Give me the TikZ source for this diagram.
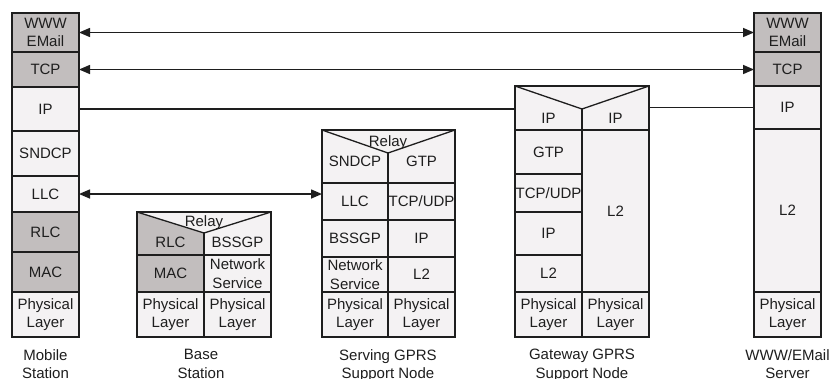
\documentclass[tikz,border=0pt]{standalone}
\usepackage{fontspec}
\setmainfont{Liberation Sans}
\usetikzlibrary{arrows.meta}
\definecolor{cellgray}{HTML}{C2BEBE}
\definecolor{celllite}{HTML}{F4F2F3}
\definecolor{ink}{HTML}{1E1E1E}
\newcommand{\stackcell}[7]{\node[cell,fill=#6,minimum width=#4pt,minimum height=#5pt] (#1) at (#2,#3) {#7};}
\begin{document}
\begin{tikzpicture}[x=1pt,y=-1pt,
  every node/.style={font=\fontsize{15}{18.5}\selectfont, text=ink},
  cell/.style={draw=ink, line width=1.3pt, inner sep=0pt, outer sep=0pt, align=center, anchor=north west},
  txt/.style={inner sep=0pt, align=center},
  vline/.style={draw=ink, line width=1.3pt},
  biarrow/.style={draw=ink, line width=1.5pt, {Triangle[length=11pt,width=9pt]}-{Triangle[length=11pt,width=9pt]}},
  plainline/.style={draw=ink, line width=1.5pt},
  caption/.style={inner sep=0pt, align=center, anchor=north}
]
\fill[white] (0,0) rectangle (834,378);
\useasboundingbox (0,0) rectangle (834,378);

% Mobile Station
\stackcell{ms1}{12}{13}{67}{39}{cellgray}{WWW\\EMail}
\stackcell{ms2}{12}{52}{67}{35}{cellgray}{TCP}
\stackcell{ms3}{12}{87}{67}{44}{celllite}{IP}
\stackcell{ms4}{12}{131}{67}{45}{celllite}{SNDCP}
\stackcell{ms5}{12}{176}{67}{36}{celllite}{LLC}
\stackcell{ms6}{12}{212}{67}{40}{cellgray}{RLC}
\stackcell{ms7}{12}{252}{67}{40}{cellgray}{MAC}
\stackcell{ms8}{12}{292}{67}{45}{celllite}{Physical\\Layer}

% Base Station
\stackcell{bsTop}{137}{212}{134}{43}{celllite}{}
\coordinate (bsApex) at (204,233);
\fill[cellgray] (bsTop.north west) -- (bsApex) -- (bsApex |- bsTop.south) -- (bsTop.south west) -- cycle;
\draw[vline] (bsTop.north west) rectangle (bsTop.south east);
\draw[vline] (bsTop.north west) -- (bsApex) -- (bsTop.north east);
\draw[vline] (bsApex) -- (bsApex |- bsTop.south);
\node[txt] (bsRelay) at (204,223) {Relay};
\node[txt] (bsRLC) at (170.5,242) {RLC};
\node[txt] (bsBSSGP) at (237.5,242) {BSSGP};
\stackcell{bs3}{137}{255}{67}{37}{cellgray}{MAC}
\stackcell{bs4}{204}{255}{67}{37}{celllite}{Network\\Service}
\stackcell{bs5}{137}{292}{67}{45}{celllite}{Physical\\Layer}
\stackcell{bs6}{204}{292}{67}{45}{celllite}{Physical\\Layer}

% Serving GPRS Support Node
\stackcell{sgTop}{322}{130}{133}{53}{celllite}{}
\coordinate (sgApex) at (388,153);
\draw[vline] (sgTop.north west) -- (sgApex) -- (sgTop.north east);
\draw[vline] (sgApex) -- (sgApex |- sgTop.south);
\node[txt] (sgRelay) at (388,143) {Relay};
\node[txt] (sgSNDCP) at (355,161) {SNDCP};
\node[txt] (sgGTP) at (421.5,161) {GTP};
\stackcell{sg3}{322}{183}{66}{37}{celllite}{LLC}
\stackcell{sg4}{388}{183}{67}{37}{celllite}{TCP/UDP}
\stackcell{sg5}{322}{220}{66}{37}{celllite}{BSSGP}
\stackcell{sg6}{388}{220}{67}{37}{celllite}{IP}
\stackcell{sg7}{322}{257}{66}{35}{celllite}{Network\\Service}
\stackcell{sg8}{388}{257}{67}{35}{celllite}{L2}
\stackcell{sg9}{322}{292}{66}{45}{celllite}{Physical\\Layer}
\stackcell{sg10}{388}{292}{67}{45}{celllite}{Physical\\Layer}

% Gateway GPRS Support Node
\stackcell{gwTop}{515}{86}{134}{44}{celllite}{}
\coordinate (gwApex) at (582,109);
\draw[vline] (gwTop.north west) -- (gwApex) -- (gwTop.north east);
\draw[vline] (gwApex) -- (gwApex |- gwTop.south);
\node[txt] (gwIPa) at (548.5,118) {IP};
\node[txt] (gwIPb) at (615.5,118) {IP};
\stackcell{gw3}{515}{130}{67}{44}{celllite}{GTP}
\stackcell{gw4}{515}{174}{67}{38}{celllite}{TCP/UDP}
\stackcell{gw5}{515}{212}{67}{43}{celllite}{IP}
\stackcell{gw6}{515}{255}{67}{37}{celllite}{L2}
\stackcell{gw7}{582}{130}{67}{162}{celllite}{L2}
\stackcell{gw8}{515}{292}{67}{45}{celllite}{Physical\\Layer}
\stackcell{gw9}{582}{292}{67}{45}{celllite}{Physical\\Layer}

% WWW/EMail Server
\stackcell{sv1}{754}{13}{67}{39}{cellgray}{WWW\\EMail}
\stackcell{sv2}{754}{52}{67}{34}{cellgray}{TCP}
\stackcell{sv3}{754}{86}{67}{43}{celllite}{IP}
\stackcell{sv4}{754}{129}{67}{163}{celllite}{L2}
\stackcell{sv5}{754}{292}{67}{45}{celllite}{Physical\\Layer}

% Connectors
\draw[biarrow] (ms1.east) -- (ms1.east -| sv1.west);
\draw[biarrow] (ms2.east) -- (ms2.east -| sv2.west);
\draw[plainline] (ms3.east) -- (ms3.east -| gwTop.west);
\draw[plainline] (gwTop.east |- sv3.west) -- (sv3.west);
\draw[biarrow] (ms5.east) -- (ms5.east -| sg3.west);

% Captions
\node[caption] (capMS) at (45.5,349) {Mobile\\Station};
\node[caption] (capBS) at (201,349) {Base\\Station};
\node[caption] (capSG) at (388,349) {Serving GPRS\\Support Node};
\node[caption] (capGW) at (582,349) {Gateway GPRS\\Support Node};
\node[caption] (capSV) at (787.5,349) {WWW/EMail\\Server};
\end{tikzpicture}
\end{document}
